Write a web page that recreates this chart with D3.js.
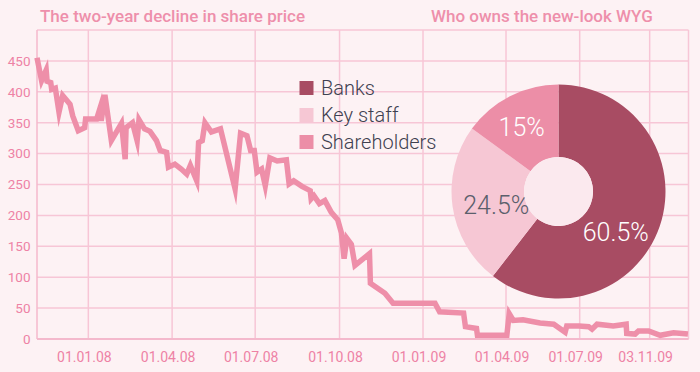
<!DOCTYPE html>
<html>
<head>
<meta charset="utf-8">
<script src="https://cdn.jsdelivr.net/npm/d3@7"></script>
<style>
  html, body { margin: 0; padding: 0; background: #fdf2f4; }
  svg { display: block; font-family: Roboto, "Noto Sans", sans-serif; }
</style>
</head>
<body>
<svg id="chart" width="700" height="372"></svg>
<script>
// share price, weekly-ish closes (pence)
var priceDates = [
  "2007-11-06","2007-11-11","2007-11-16","2007-11-17","2007-11-21","2007-11-22","2007-11-26","2007-11-30",
  "2007-12-04","2007-12-12","2007-12-15","2007-12-21","2007-12-28","2007-12-29",
  "2008-01-10","2008-01-14","2008-01-15","2008-01-19","2008-01-26","2008-02-06","2008-02-10","2008-02-11",
  "2008-02-18","2008-02-23","2008-02-25","2008-03-02","2008-03-08","2008-03-15","2008-03-19","2008-03-26","2008-03-28",
  "2008-04-04","2008-04-11","2008-04-17","2008-04-21","2008-04-28","2008-04-30","2008-05-04","2008-05-07",
  "2008-05-14","2008-05-24","2008-06-09","2008-06-15","2008-06-22","2008-06-26","2008-06-30",
  "2008-07-03","2008-07-08","2008-07-12","2008-07-17","2008-07-25","2008-08-04","2008-08-07","2008-08-12",
  "2008-08-21","2008-08-30","2008-08-31","2008-09-03","2008-09-09","2008-09-15","2008-09-22","2008-09-29",
  "2008-10-03","2008-10-06","2008-10-09","2008-10-14","2008-10-18","2008-11-03","2008-11-04","2008-11-20","2008-11-29",
  "2009-01-14","2009-01-19","2009-02-14","2009-02-16","2009-02-28","2009-03-01","2009-04-02",
  "2009-04-05","2009-04-10","2009-04-22","2009-05-13","2009-05-30","2009-06-13","2009-06-15","2009-06-30",
  "2009-07-17","2009-07-23","2009-08-01","2009-08-30","2009-09-22","2009-09-23","2009-10-08","2009-10-14",
  "2009-11-01","2009-11-22","2009-12-16","2010-01-11"
];
var priceValues = [
  455, 418, 435, 417, 415, 404, 406, 367,
  394, 380, 361, 337, 342, 356,
  356, 375, 353, 395, 321, 349, 291, 342,
  350, 321, 355, 340, 336, 321, 305, 302, 278,
  283, 275, 267, 281, 256, 318, 321, 350,
  335, 340, 243, 333, 329, 305, 305,
  270, 275, 248, 293, 288, 290, 251, 256,
  247, 240, 227, 232, 219, 224, 205, 193,
  172, 130, 163, 153, 119, 138, 90, 74, 58,
  58, 44, 42, 20, 17, 6, 6,
  41, 30, 31, 26, 24, 11, 21, 21,
  20, 16, 24, 21, 24, 9, 8, 13,
  13, 6, 10, 8
];

var yTicks = [0, 50, 100, 150, 200, 250, 300, 350, 400, 450];
var yMax = 500;
var xTickDates = ["2008-01-01","2008-04-01","2008-07-01","2008-10-01","2009-01-01","2009-04-01","2009-07-01","2009-11-03"];
var xTickLabels = ["01.01.08","01.04.08","01.07.08","01.10.08","01.01.09","01.04.09","01.07.09","03.11.09"];
var xStart = "2007-11-06", xEnd = "2010-01-12";

var shareLabels = ["Banks", "Key staff", "Shareholders"];
var shareValues = [60.5, 24.5, 15];
var shareText = ["60.5%", "24.5%", "15%"];

var titles = ["The two-year decline in share price", "Who owns the new-look WYG"];

(function() {
  var parse = d3.timeParse("%Y-%m-%d");
  var svg = d3.select("#chart");
  var left = 37, right = 688.5, top = 30, bottom = 339;

  var pink = "#ee8fa9", grid = "#f7c6d6", tickCol = "#ee82a5";
  var sliceColors = ["#a84c63", "#f6c7d4", "#ec8ea7"];
  var sliceText = ["#fff", "#5b5f6c", "#fff"];

  svg.append("rect").attr("width", 700).attr("height", 372).attr("fill", "#fdf2f4");

  // the axis is not evenly spaced in the original, so stretch it between the tick dates
  var stops = [0, 0.0788, 0.2074, 0.3349, 0.4644, 0.5925, 0.7199, 0.8330, 0.9404, 1];
  var domainDates = [xStart].concat(xTickDates, [xEnd]).map(parse);
  var x = d3.scaleTime()
    .domain(domainDates)
    .range(stops.map(function(s) { return left + s * (right - left); }));
  var y = d3.scaleLinear().domain([0, yMax]).range([bottom, top]);

  // grid
  var g = svg.append("g");
  g.selectAll("line.h")
    .data(yTicks.concat([yMax]))
    .enter().append("line")
    .attr("x1", left).attr("x2", right)
    .attr("y1", function(d) { return y(d); })
    .attr("y2", function(d) { return y(d); })
    .attr("stroke", grid).attr("stroke-width", 1.5);
  g.selectAll("line.v")
    .data(xTickDates.map(parse).concat([parse(xEnd)]))
    .enter().append("line")
    .attr("x1", function(d) { return x(d); })
    .attr("x2", function(d) { return x(d); })
    .attr("y1", top).attr("y2", bottom)
    .attr("stroke", grid).attr("stroke-width", 1.5);
  g.append("line").attr("x1", left).attr("x2", left).attr("y1", top).attr("y2", bottom)
    .attr("stroke", "#f4b9cc").attr("stroke-width", 1.5);
  g.append("line").attr("x1", left).attr("x2", right).attr("y1", bottom).attr("y2", bottom)
    .attr("stroke", "#f4b9cc").attr("stroke-width", 2);

  // tick labels
  svg.append("g").selectAll("text")
    .data(yTicks)
    .enter().append("text")
    .attr("x", 30.5)
    .attr("y", function(d) { return y(d); })
    .attr("dy", "0.36em")
    .attr("text-anchor", "end")
    .attr("font-size", 13.5)
    .attr("fill", tickCol)
    .text(function(d) { return d; });
  svg.append("g").selectAll("text")
    .data(xTickDates)
    .enter().append("text")
    .attr("x", function(d) { return x(parse(d)) - 4; })
    .attr("y", 361.5)
    .attr("text-anchor", "middle")
    .attr("font-size", 14)
    .attr("fill", tickCol)
    .text(function(d, i) { return xTickLabels[i]; });

  // price line
  var line = d3.line()
    .x(function(d) { return x(parse(d)); })
    .y(function(d, i) { return y(priceValues[i]); });
  svg.append("path")
    .attr("d", line(priceDates))
    .attr("fill", "none")
    .attr("stroke", pink)
    .attr("stroke-width", 5.5)
    .attr("stroke-linejoin", "miter")
    .attr("stroke-miterlimit", 6);

  // titles
  svg.append("text").attr("x", 40).attr("y", 21.5)
    .attr("font-size", 17).attr("font-weight", 500).attr("fill", "#ee8fab")
    .text(titles[0]);
  svg.append("text").attr("x", 431).attr("y", 21.5)
    .attr("font-size", 17).attr("font-weight", 500).attr("fill", "#ee8fab")
    .text(titles[1]);

  // legend
  var leg = svg.append("g").attr("transform", "translate(299.5,81)");
  var items = leg.selectAll("g").data(shareLabels).enter().append("g")
    .attr("transform", function(d, i) { return "translate(0," + i * 27 + ")"; });
  items.append("rect").attr("width", 14).attr("height", 14)
    .attr("fill", function(d, i) { return sliceColors[i]; });
  items.append("text").attr("x", 21.5).attr("y", 13.5)
    .attr("font-size", 20).attr("font-weight", 300).attr("fill", "#3f4150")
    .text(function(d) { return d; });

  // donut
  var cx = 558.5, cy = 191.5, rOut = 107, rIn = 34.5;
  var pie = d3.pie().sort(null).value(function(d) { return d; });
  var arc = d3.arc().innerRadius(rIn).outerRadius(rOut);
  var labelArc = d3.arc().innerRadius(70).outerRadius(70);
  var nudge = [[-9, 18], [7, 4], [-5, -2]];
  var donut = svg.append("g").attr("transform", "translate(" + cx + "," + cy + ")");
  var arcs = pie(shareValues);
  donut.selectAll("path").data(arcs).enter().append("path")
    .attr("d", arc)
    .attr("fill", function(d, i) { return sliceColors[i]; });
  donut.append("circle").attr("r", rIn).attr("fill", "#fbe9ee");
  donut.selectAll("text").data(arcs).enter().append("text")
    .attr("transform", function(d, i) {
      var c = labelArc.centroid(d);
      return "translate(" + (c[0] + nudge[i][0]) + "," + (c[1] + nudge[i][1]) + ")";
    })
    .attr("text-anchor", "middle")
    .attr("dy", "0.36em")
    .attr("font-size", 25)
    .attr("font-weight", 300)
    .attr("fill", function(d, i) { return sliceText[i]; })
    .text(function(d, i) { return shareText[i]; });
})();
</script>
</body>
</html>
